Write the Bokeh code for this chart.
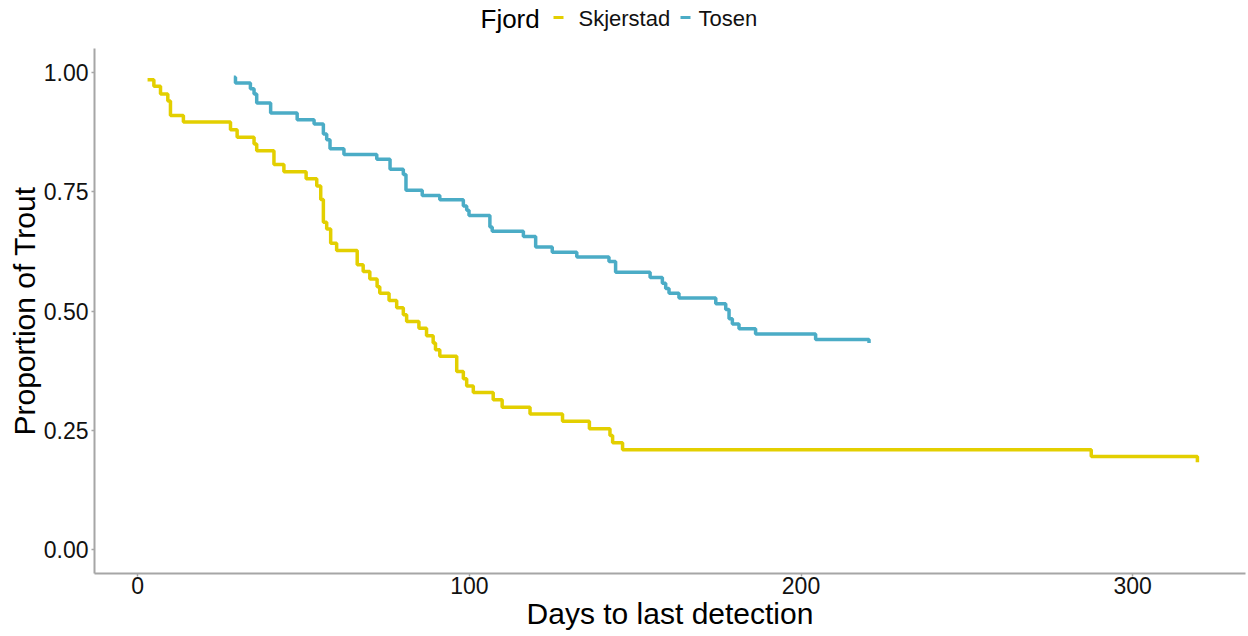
from bokeh.plotting import figure
from bokeh.models import Range1d, FixedTicker
from bokeh.layouts import column
from bokeh.core.properties import value
from bokeh.embed import file_html
from bokeh.resources import INLINE

# Kaplan-Meier style step data
skj_days = [3.0, 4.9, 6.9, 9.1, 9.9, 13.8, 28.0, 30.0, 35.1, 35.9, 41.1, 44.1, 50.8,
            54.0, 55.2, 56.0, 57.0, 58.2, 60.0, 66.2, 68.0, 70.0, 72.2, 73.0, 75.8,
            78.1, 80.1, 81.1, 84.8, 87.1, 89.1, 89.8, 91.1, 96.2, 98.2, 99.2, 101.2,
            107.2, 109.9, 118.3, 128.1, 136.2, 142.4, 143.2, 146.2, 287.5, 319.5]
skj_prop = [0.985, 0.971, 0.955, 0.940, 0.910, 0.896, 0.880, 0.864, 0.850, 0.836, 0.807,
            0.792, 0.777, 0.762, 0.734, 0.686, 0.672, 0.642, 0.627, 0.597, 0.583, 0.567,
            0.551, 0.537, 0.522, 0.507, 0.492, 0.478, 0.464, 0.448, 0.433, 0.419, 0.405,
            0.373, 0.358, 0.343, 0.329, 0.314, 0.298, 0.284, 0.269, 0.253, 0.239, 0.224,
            0.209, 0.195, 0.183]

tos_days = [29.0, 29.5, 34.0, 35.1, 35.9, 40.1, 48.1, 53.2, 56.0, 57.0, 58.0, 62.2, 72.1,
            76.1, 80.1, 80.9, 85.8, 91.1, 98.2, 99.2, 99.9, 106.2, 106.9, 116.3, 120.0,
            125.0, 132.4, 142.1, 144.1, 154.5, 158.2, 159.2, 160.2, 163.2, 174.3, 177.3,
            178.3, 179.3, 181.3, 186.3, 204.4, 220.5]
tos_prop = [0.990, 0.978, 0.966, 0.955, 0.936, 0.915, 0.901, 0.892, 0.871, 0.859, 0.840,
            0.828, 0.818, 0.797, 0.786, 0.753, 0.742, 0.733, 0.720, 0.711, 0.700, 0.676,
            0.667, 0.656, 0.634, 0.623, 0.613, 0.604, 0.581, 0.570, 0.558, 0.547, 0.537,
            0.527, 0.515, 0.503, 0.484, 0.473, 0.463, 0.452, 0.440, 0.433]

x_ticks = [0, 100, 200, 300]
y_ticks = [0.0, 0.25, 0.5, 0.75, 1.0]
y_tick_labels = ["0.00", "0.25", "0.50", "0.75", "1.00"]

legend_title = "Fjord"
series_names = ["Skjerstad", "Tosen"]

FONT = "Liberation Sans"
YELLOW = "#E3CF00"
BLUE = "#4BACC6"
colors = [YELLOW, BLUE]

BORDER_L, BORDER_R = 94, 3
W = 1248

# ---------------- header with the legend ----------------
HEADER_H = 40
hdr = figure(width=W, height=HEADER_H, output_backend="svg", toolbar_location=None,
             x_range=Range1d(BORDER_L, W - BORDER_R), y_range=Range1d(HEADER_H, 0),
             x_axis_type=None, y_axis_type=None, min_border=0,
             min_border_left=BORDER_L, min_border_right=BORDER_R)
hdr.outline_line_color = None
hdr.xgrid.visible = False
hdr.ygrid.visible = False

# legend layout (canvas-pixel positions)
title_x = 480
swatch_x0 = [553, 680]
label_x = [578, 698]
mid_y = 18

hdr.text(x=[title_x], y=[mid_y], text=[legend_title], text_font=value(FONT),
         text_font_size="26px", text_baseline="middle", text_align="left", text_color="black")
hdr.segment(x0=swatch_x0, y0=[mid_y - 1] * 2, x1=[x + 10 for x in swatch_x0], y1=[mid_y - 1] * 2,
            line_color=colors, line_width=3)
hdr.text(x=label_x, y=[mid_y] * 2, text=series_names, text_font=value(FONT),
         text_font_size="22px", text_baseline="middle", text_align="left", text_color="#111111")

# ---------------- main plot ----------------
p = figure(width=W, height=636 - HEADER_H, output_backend="svg", toolbar_location=None,
           x_range=Range1d(-13, 334), y_range=Range1d(-0.0503, 1.0503),
           min_border_left=BORDER_L, min_border_right=BORDER_R, min_border_top=48 - HEADER_H,
           min_border_bottom=63)
p.outline_line_color = None
p.xgrid.visible = False
p.ygrid.visible = False

p.step(skj_days, skj_prop, mode="after", line_width=3.5, color=colors[0])
p.step(tos_days, tos_prop, mode="after", line_width=3.5, color=colors[1])

for ax in (p.xaxis[0], p.yaxis[0]):
    ax.axis_line_color = "#a6a6a6"
    ax.axis_line_width = 2
    ax.major_tick_line_color = "#a6a6a6"
    ax.major_tick_line_width = 1.5
    ax.major_tick_out = 3
    ax.major_tick_in = 0
    ax.minor_tick_line_color = None
    ax.major_label_text_font = FONT
    ax.major_label_text_font_size = "23px"
    ax.major_label_text_color = "#111111"
    ax.axis_label_text_font = FONT
    ax.axis_label_text_font_size = "30px"
    ax.axis_label_text_font_style = "normal"
    ax.axis_label_text_color = "black"

p.xaxis[0].ticker = FixedTicker(ticks=x_ticks)
p.yaxis[0].ticker = FixedTicker(ticks=y_ticks)
p.yaxis[0].major_label_overrides = {t: l for t, l in zip(y_ticks, y_tick_labels)}
p.xaxis[0].axis_label = "Days to last detection"
p.yaxis[0].axis_label = "Proportion of Trout"
p.xaxis[0].major_label_standoff = 0
p.xaxis[0].axis_label_standoff = 0
p.yaxis[0].major_label_standoff = 3
p.yaxis[0].axis_label_standoff = 0

layout = column(hdr, p, spacing=0)
open("out.html", "w").write(file_html(layout, INLINE))
